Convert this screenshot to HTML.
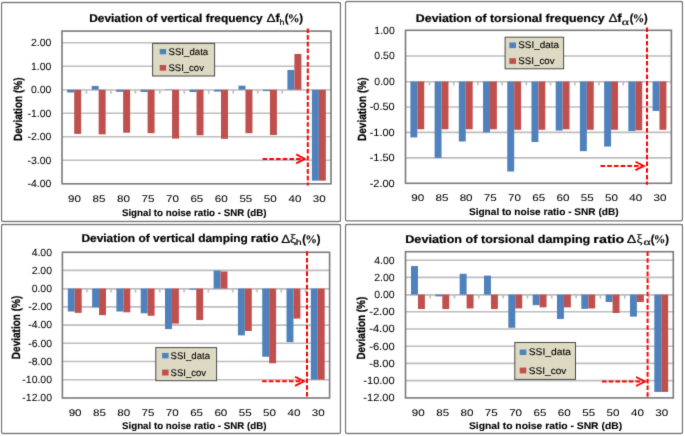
<!DOCTYPE html>
<html><head><meta charset="utf-8"><style>
html,body{margin:0;padding:0;background:#fff;}
body{width:685px;height:436px;overflow:hidden;font-family:"Liberation Sans",sans-serif;}
svg{display:block;}
</style></head><body>
<svg width="685" height="436" viewBox="0 0 685 436" text-rendering="geometricPrecision">
<defs><filter id="b" filterUnits="userSpaceOnUse" x="0" y="0" width="685" height="436" color-interpolation-filters="sRGB"><feConvolveMatrix order="3" kernelMatrix="0.0183 0.1353 0.0183 0.1353 1 0.1353 0.0183 0.1353 0.0183" edgeMode="duplicate" preserveAlpha="true"/></filter></defs>
<rect width="685" height="436" fill="#fff"/>
<g filter="url(#b)">
<rect x="1.5" y="2.5" width="339.00" height="219.00" rx="1.5" fill="#fff" stroke="#868686" stroke-width="1.3"/>
<line x1="62" y1="160.20" x2="331" y2="160.20" stroke="#BDBDBD" stroke-width="1.6"/>
<line x1="62" y1="136.70" x2="331" y2="136.70" stroke="#BDBDBD" stroke-width="1.6"/>
<line x1="62" y1="113.20" x2="331" y2="113.20" stroke="#BDBDBD" stroke-width="1.6"/>
<line x1="62" y1="66.20" x2="331" y2="66.20" stroke="#BDBDBD" stroke-width="1.6"/>
<line x1="62" y1="42.70" x2="331" y2="42.70" stroke="#BDBDBD" stroke-width="1.6"/>
<line x1="62" y1="90.00" x2="331" y2="90.00" stroke="#BDBDBD" stroke-width="1.6"/>
<rect x="67.20" y="89.70" width="6.99" height="2.82" fill="#4F81BD"/>
<rect x="74.19" y="89.70" width="6.99" height="44.18" fill="#C0504D"/>
<rect x="91.67" y="85.94" width="6.99" height="3.76" fill="#4F81BD"/>
<rect x="98.66" y="89.70" width="6.99" height="44.65" fill="#C0504D"/>
<rect x="116.14" y="89.70" width="6.99" height="2.11" fill="#4F81BD"/>
<rect x="123.13" y="89.70" width="6.99" height="43.01" fill="#C0504D"/>
<rect x="140.60" y="89.70" width="6.99" height="2.35" fill="#4F81BD"/>
<rect x="147.60" y="89.70" width="6.99" height="43.48" fill="#C0504D"/>
<rect x="165.07" y="89.23" width="6.99" height="0.47" fill="#4F81BD"/>
<rect x="172.06" y="89.70" width="6.99" height="48.88" fill="#C0504D"/>
<rect x="189.54" y="89.70" width="6.99" height="2.35" fill="#4F81BD"/>
<rect x="196.53" y="89.70" width="6.99" height="45.59" fill="#C0504D"/>
<rect x="214.01" y="89.70" width="6.99" height="1.88" fill="#4F81BD"/>
<rect x="221.00" y="89.70" width="6.99" height="49.11" fill="#C0504D"/>
<rect x="238.47" y="85.70" width="6.99" height="4.00" fill="#4F81BD"/>
<rect x="245.46" y="89.70" width="6.99" height="43.48" fill="#C0504D"/>
<rect x="262.94" y="89.70" width="6.99" height="1.41" fill="#4F81BD"/>
<rect x="269.93" y="89.70" width="6.99" height="45.36" fill="#C0504D"/>
<rect x="287.41" y="69.96" width="6.99" height="19.74" fill="#4F81BD"/>
<rect x="294.40" y="53.98" width="6.99" height="35.72" fill="#C0504D"/>
<rect x="311.88" y="89.70" width="6.99" height="90.95" fill="#4F81BD"/>
<rect x="318.87" y="89.70" width="6.99" height="90.95" fill="#C0504D"/>
<line x1="86.43" y1="89.70" x2="86.43" y2="93.70" stroke="#BDBDBD" stroke-width="1.6"/>
<line x1="110.89" y1="89.70" x2="110.89" y2="93.70" stroke="#BDBDBD" stroke-width="1.6"/>
<line x1="135.36" y1="89.70" x2="135.36" y2="93.70" stroke="#BDBDBD" stroke-width="1.6"/>
<line x1="159.83" y1="89.70" x2="159.83" y2="93.70" stroke="#BDBDBD" stroke-width="1.6"/>
<line x1="184.30" y1="89.70" x2="184.30" y2="93.70" stroke="#BDBDBD" stroke-width="1.6"/>
<line x1="208.76" y1="89.70" x2="208.76" y2="93.70" stroke="#BDBDBD" stroke-width="1.6"/>
<line x1="233.23" y1="89.70" x2="233.23" y2="93.70" stroke="#BDBDBD" stroke-width="1.6"/>
<line x1="257.70" y1="89.70" x2="257.70" y2="93.70" stroke="#BDBDBD" stroke-width="1.6"/>
<line x1="282.17" y1="89.70" x2="282.17" y2="93.70" stroke="#BDBDBD" stroke-width="1.6"/>
<line x1="306.63" y1="89.70" x2="306.63" y2="93.70" stroke="#BDBDBD" stroke-width="1.6"/>
<rect x="62" y="31.1" width="269.00" height="152.70" fill="none" stroke="#7a7a7a" stroke-width="1.6"/>
<text x="27.49" y="187.10" font-family="Liberation Sans, sans-serif" font-size="10.45" font-weight="normal" fill="#000" stroke="#000" stroke-width="0.05" textLength="23.82" lengthAdjust="spacingAndGlyphs" >-4.00</text>
<text x="27.49" y="163.60" font-family="Liberation Sans, sans-serif" font-size="10.45" font-weight="normal" fill="#000" stroke="#000" stroke-width="0.05" textLength="23.82" lengthAdjust="spacingAndGlyphs" >-3.00</text>
<text x="27.49" y="140.10" font-family="Liberation Sans, sans-serif" font-size="10.45" font-weight="normal" fill="#000" stroke="#000" stroke-width="0.05" textLength="23.82" lengthAdjust="spacingAndGlyphs" >-2.00</text>
<text x="27.49" y="116.60" font-family="Liberation Sans, sans-serif" font-size="10.45" font-weight="normal" fill="#000" stroke="#000" stroke-width="0.05" textLength="23.82" lengthAdjust="spacingAndGlyphs" >-1.00</text>
<text x="30.97" y="93.10" font-family="Liberation Sans, sans-serif" font-size="10.45" font-weight="normal" fill="#000" stroke="#000" stroke-width="0.05" textLength="20.34" lengthAdjust="spacingAndGlyphs" >0.00</text>
<text x="30.97" y="69.60" font-family="Liberation Sans, sans-serif" font-size="10.45" font-weight="normal" fill="#000" stroke="#000" stroke-width="0.05" textLength="20.34" lengthAdjust="spacingAndGlyphs" >1.00</text>
<text x="30.97" y="46.10" font-family="Liberation Sans, sans-serif" font-size="10.45" font-weight="normal" fill="#000" stroke="#000" stroke-width="0.05" textLength="20.34" lengthAdjust="spacingAndGlyphs" >2.00</text>
<text x="68.10" y="201.65" font-family="Liberation Sans, sans-serif" font-size="9.75" font-weight="normal" fill="#000" stroke="#000" stroke-width="0.05" textLength="12.91" lengthAdjust="spacingAndGlyphs" >90</text>
<text x="92.60" y="201.65" font-family="Liberation Sans, sans-serif" font-size="9.75" font-weight="normal" fill="#000" stroke="#000" stroke-width="0.05" textLength="12.91" lengthAdjust="spacingAndGlyphs" >85</text>
<text x="117.05" y="201.65" font-family="Liberation Sans, sans-serif" font-size="9.75" font-weight="normal" fill="#000" stroke="#000" stroke-width="0.05" textLength="12.91" lengthAdjust="spacingAndGlyphs" >80</text>
<text x="141.49" y="201.65" font-family="Liberation Sans, sans-serif" font-size="9.75" font-weight="normal" fill="#000" stroke="#000" stroke-width="0.05" textLength="12.91" lengthAdjust="spacingAndGlyphs" >75</text>
<text x="165.94" y="201.65" font-family="Liberation Sans, sans-serif" font-size="9.75" font-weight="normal" fill="#000" stroke="#000" stroke-width="0.05" textLength="12.91" lengthAdjust="spacingAndGlyphs" >70</text>
<text x="190.43" y="201.65" font-family="Liberation Sans, sans-serif" font-size="9.75" font-weight="normal" fill="#000" stroke="#000" stroke-width="0.05" textLength="12.91" lengthAdjust="spacingAndGlyphs" >65</text>
<text x="214.88" y="201.65" font-family="Liberation Sans, sans-serif" font-size="9.75" font-weight="normal" fill="#000" stroke="#000" stroke-width="0.05" textLength="12.91" lengthAdjust="spacingAndGlyphs" >60</text>
<text x="239.42" y="201.65" font-family="Liberation Sans, sans-serif" font-size="9.75" font-weight="normal" fill="#000" stroke="#000" stroke-width="0.05" textLength="12.91" lengthAdjust="spacingAndGlyphs" >55</text>
<text x="263.87" y="201.65" font-family="Liberation Sans, sans-serif" font-size="9.75" font-weight="normal" fill="#000" stroke="#000" stroke-width="0.05" textLength="12.91" lengthAdjust="spacingAndGlyphs" >50</text>
<text x="288.44" y="201.65" font-family="Liberation Sans, sans-serif" font-size="9.75" font-weight="normal" fill="#000" stroke="#000" stroke-width="0.05" textLength="12.91" lengthAdjust="spacingAndGlyphs" >40</text>
<text x="312.82" y="201.65" font-family="Liberation Sans, sans-serif" font-size="9.75" font-weight="normal" fill="#000" stroke="#000" stroke-width="0.05" textLength="12.91" lengthAdjust="spacingAndGlyphs" >30</text>
<text x="121.92" y="216.00" font-family="Liberation Sans, sans-serif" font-size="9.75" font-weight="bold" fill="#000" stroke="#000" stroke-width="0.1" textLength="144.57" lengthAdjust="spacingAndGlyphs" >Signal to noise ratio - SNR (dB)</text>
<text transform="translate(22.30,140.30) rotate(-90)" x="-0.67" y="0" font-family="Liberation Sans, sans-serif" font-size="11.8" font-weight="bold" fill="#000" stroke="#000" stroke-width="0.25" textLength="63.47" lengthAdjust="spacingAndGlyphs">Deviation (%)</text>
<text x="89.20" y="22.00" font-family="Liberation Sans, sans-serif" font-size="11.3" font-weight="bold" fill="#000" stroke="#000" stroke-width="0.2" textLength="173.46" lengthAdjust="spacingAndGlyphs" >Deviation of vertical frequency</text>
<text x="266.40" y="22.00" font-family="Liberation Sans, sans-serif" font-size="11.7" font-weight="normal" fill="#000" stroke="#000" stroke-width="0.2" textLength="9.01" lengthAdjust="spacingAndGlyphs" >Δ</text>
<text x="275.58" y="22.00" font-family="Liberation Sans, sans-serif" font-size="11.7" font-weight="bold" fill="#000" stroke="#000" stroke-width="0.2" textLength="4.19" lengthAdjust="spacingAndGlyphs" >f</text>
<text x="279.59" y="24.60" font-family="Liberation Sans, sans-serif" font-size="8.2" font-weight="normal" fill="#000" stroke="#000" stroke-width="0.2" textLength="4.88" lengthAdjust="spacingAndGlyphs" >h</text>
<text x="284.63" y="22.00" font-family="Liberation Sans, sans-serif" font-size="11.7" font-weight="bold" fill="#000" stroke="#000" stroke-width="0.2" textLength="3.80" lengthAdjust="spacingAndGlyphs" >(</text>
<text x="287.70" y="22.00" font-family="Liberation Serif, sans-serif" font-size="11.7" font-weight="bold" fill="#000" stroke="#000" stroke-width="0.1" textLength="11.89" lengthAdjust="spacingAndGlyphs" >%</text>
<text x="299.27" y="22.00" font-family="Liberation Sans, sans-serif" font-size="11.7" font-weight="bold" fill="#000" stroke="#000" stroke-width="0.2" textLength="3.80" lengthAdjust="spacingAndGlyphs" >)</text>
<rect x="152.6" y="43.4" width="62.00" height="32.60" fill="#DDD9C3" stroke="#4a4a4a" stroke-width="1"/>
<rect x="159.7" y="49" width="6.40" height="5.30" fill="#4F81BD"/>
<text x="168.46" y="54.80" font-family="Liberation Sans, sans-serif" font-size="9.6" font-weight="normal" fill="#000" stroke="#000" stroke-width="0.1" textLength="39.74" lengthAdjust="spacingAndGlyphs" >SSI_data</text>
<rect x="159.7" y="65" width="6.40" height="5.70" fill="#C0504D"/>
<text x="168.47" y="71.20" font-family="Liberation Sans, sans-serif" font-size="9.6" font-weight="normal" fill="#000" stroke="#000" stroke-width="0.1" textLength="35.46" lengthAdjust="spacingAndGlyphs" >SSI_cov</text>
<line x1="307.8" y1="28.4" x2="307.8" y2="185.5" stroke="#FF0000" stroke-width="2" stroke-dasharray="4.6 2.1"/>
<line x1="262.6" y1="158.9" x2="303.9" y2="158.9" stroke="#FF0000" stroke-width="2" stroke-dasharray="4.6 2.1"/>
<polyline points="296.2,154.4 304.9,158.9 296.2,163.4" fill="none" stroke="#FF0000" stroke-width="1.8" stroke-linejoin="miter"/>
<rect x="345.5" y="1.5" width="337.00" height="219.30" rx="1.5" fill="#fff" stroke="#868686" stroke-width="1.3"/>
<line x1="405.5" y1="157.85" x2="671.4" y2="157.85" stroke="#BDBDBD" stroke-width="1.6"/>
<line x1="405.5" y1="132.40" x2="671.4" y2="132.40" stroke="#BDBDBD" stroke-width="1.6"/>
<line x1="405.5" y1="106.95" x2="671.4" y2="106.95" stroke="#BDBDBD" stroke-width="1.6"/>
<line x1="405.5" y1="56.05" x2="671.4" y2="56.05" stroke="#BDBDBD" stroke-width="1.6"/>
<line x1="405.5" y1="81.80" x2="671.4" y2="81.80" stroke="#BDBDBD" stroke-width="1.6"/>
<rect x="410.39" y="81.50" width="6.92" height="55.93" fill="#4F81BD"/>
<rect x="417.31" y="81.50" width="6.92" height="47.79" fill="#C0504D"/>
<rect x="434.61" y="81.50" width="6.92" height="76.29" fill="#4F81BD"/>
<rect x="441.53" y="81.50" width="6.92" height="47.79" fill="#C0504D"/>
<rect x="458.83" y="81.50" width="6.92" height="60.00" fill="#4F81BD"/>
<rect x="465.75" y="81.50" width="6.92" height="47.79" fill="#C0504D"/>
<rect x="483.04" y="81.50" width="6.92" height="50.84" fill="#4F81BD"/>
<rect x="489.96" y="81.50" width="6.92" height="47.79" fill="#C0504D"/>
<rect x="507.26" y="81.50" width="6.92" height="90.03" fill="#4F81BD"/>
<rect x="514.18" y="81.50" width="6.92" height="48.30" fill="#C0504D"/>
<rect x="531.48" y="81.50" width="6.92" height="60.51" fill="#4F81BD"/>
<rect x="538.40" y="81.50" width="6.92" height="48.30" fill="#C0504D"/>
<rect x="555.70" y="81.50" width="6.92" height="49.06" fill="#4F81BD"/>
<rect x="562.62" y="81.50" width="6.92" height="47.79" fill="#C0504D"/>
<rect x="579.92" y="81.50" width="6.92" height="69.67" fill="#4F81BD"/>
<rect x="586.84" y="81.50" width="6.92" height="48.30" fill="#C0504D"/>
<rect x="604.14" y="81.50" width="6.92" height="65.09" fill="#4F81BD"/>
<rect x="611.05" y="81.50" width="6.92" height="48.30" fill="#C0504D"/>
<rect x="628.35" y="81.50" width="6.92" height="49.57" fill="#4F81BD"/>
<rect x="635.27" y="81.50" width="6.92" height="48.80" fill="#C0504D"/>
<rect x="652.57" y="81.50" width="6.92" height="29.46" fill="#4F81BD"/>
<rect x="659.49" y="81.50" width="6.92" height="48.30" fill="#C0504D"/>
<line x1="429.42" y1="81.50" x2="429.42" y2="85.50" stroke="#BDBDBD" stroke-width="1.6"/>
<line x1="453.64" y1="81.50" x2="453.64" y2="85.50" stroke="#BDBDBD" stroke-width="1.6"/>
<line x1="477.85" y1="81.50" x2="477.85" y2="85.50" stroke="#BDBDBD" stroke-width="1.6"/>
<line x1="502.07" y1="81.50" x2="502.07" y2="85.50" stroke="#BDBDBD" stroke-width="1.6"/>
<line x1="526.29" y1="81.50" x2="526.29" y2="85.50" stroke="#BDBDBD" stroke-width="1.6"/>
<line x1="550.51" y1="81.50" x2="550.51" y2="85.50" stroke="#BDBDBD" stroke-width="1.6"/>
<line x1="574.73" y1="81.50" x2="574.73" y2="85.50" stroke="#BDBDBD" stroke-width="1.6"/>
<line x1="598.95" y1="81.50" x2="598.95" y2="85.50" stroke="#BDBDBD" stroke-width="1.6"/>
<line x1="623.16" y1="81.50" x2="623.16" y2="85.50" stroke="#BDBDBD" stroke-width="1.6"/>
<line x1="647.38" y1="81.50" x2="647.38" y2="85.50" stroke="#BDBDBD" stroke-width="1.6"/>
<rect x="405.5" y="30.3" width="265.90" height="153.00" fill="none" stroke="#7a7a7a" stroke-width="1.6"/>
<text x="369.67" y="186.70" font-family="Liberation Sans, sans-serif" font-size="10.45" font-weight="normal" fill="#000" stroke="#000" stroke-width="0.05" textLength="25.06" lengthAdjust="spacingAndGlyphs" >-2.00</text>
<text x="369.67" y="161.25" font-family="Liberation Sans, sans-serif" font-size="10.45" font-weight="normal" fill="#000" stroke="#000" stroke-width="0.05" textLength="25.06" lengthAdjust="spacingAndGlyphs" >-1.50</text>
<text x="369.67" y="135.80" font-family="Liberation Sans, sans-serif" font-size="10.45" font-weight="normal" fill="#000" stroke="#000" stroke-width="0.05" textLength="25.06" lengthAdjust="spacingAndGlyphs" >-1.00</text>
<text x="369.67" y="110.35" font-family="Liberation Sans, sans-serif" font-size="10.45" font-weight="normal" fill="#000" stroke="#000" stroke-width="0.05" textLength="25.06" lengthAdjust="spacingAndGlyphs" >-0.50</text>
<text x="374.37" y="84.90" font-family="Liberation Sans, sans-serif" font-size="10.45" font-weight="normal" fill="#000" stroke="#000" stroke-width="0.05" textLength="20.34" lengthAdjust="spacingAndGlyphs" >0.00</text>
<text x="374.37" y="59.45" font-family="Liberation Sans, sans-serif" font-size="10.45" font-weight="normal" fill="#000" stroke="#000" stroke-width="0.05" textLength="20.34" lengthAdjust="spacingAndGlyphs" >0.50</text>
<text x="374.37" y="34.00" font-family="Liberation Sans, sans-serif" font-size="10.45" font-weight="normal" fill="#000" stroke="#000" stroke-width="0.05" textLength="20.34" lengthAdjust="spacingAndGlyphs" >1.00</text>
<text x="411.21" y="201.35" font-family="Liberation Sans, sans-serif" font-size="9.75" font-weight="normal" fill="#000" stroke="#000" stroke-width="0.05" textLength="12.91" lengthAdjust="spacingAndGlyphs" >90</text>
<text x="435.47" y="201.35" font-family="Liberation Sans, sans-serif" font-size="9.75" font-weight="normal" fill="#000" stroke="#000" stroke-width="0.05" textLength="12.91" lengthAdjust="spacingAndGlyphs" >85</text>
<text x="459.67" y="201.35" font-family="Liberation Sans, sans-serif" font-size="9.75" font-weight="normal" fill="#000" stroke="#000" stroke-width="0.05" textLength="12.91" lengthAdjust="spacingAndGlyphs" >80</text>
<text x="483.86" y="201.35" font-family="Liberation Sans, sans-serif" font-size="9.75" font-weight="normal" fill="#000" stroke="#000" stroke-width="0.05" textLength="12.91" lengthAdjust="spacingAndGlyphs" >75</text>
<text x="508.06" y="201.35" font-family="Liberation Sans, sans-serif" font-size="9.75" font-weight="normal" fill="#000" stroke="#000" stroke-width="0.05" textLength="12.91" lengthAdjust="spacingAndGlyphs" >70</text>
<text x="532.30" y="201.35" font-family="Liberation Sans, sans-serif" font-size="9.75" font-weight="normal" fill="#000" stroke="#000" stroke-width="0.05" textLength="12.91" lengthAdjust="spacingAndGlyphs" >65</text>
<text x="556.50" y="201.35" font-family="Liberation Sans, sans-serif" font-size="9.75" font-weight="normal" fill="#000" stroke="#000" stroke-width="0.05" textLength="12.91" lengthAdjust="spacingAndGlyphs" >60</text>
<text x="580.79" y="201.35" font-family="Liberation Sans, sans-serif" font-size="9.75" font-weight="normal" fill="#000" stroke="#000" stroke-width="0.05" textLength="12.91" lengthAdjust="spacingAndGlyphs" >55</text>
<text x="605.00" y="201.35" font-family="Liberation Sans, sans-serif" font-size="9.75" font-weight="normal" fill="#000" stroke="#000" stroke-width="0.05" textLength="12.91" lengthAdjust="spacingAndGlyphs" >50</text>
<text x="629.31" y="201.35" font-family="Liberation Sans, sans-serif" font-size="9.75" font-weight="normal" fill="#000" stroke="#000" stroke-width="0.05" textLength="12.91" lengthAdjust="spacingAndGlyphs" >40</text>
<text x="653.44" y="201.35" font-family="Liberation Sans, sans-serif" font-size="9.75" font-weight="normal" fill="#000" stroke="#000" stroke-width="0.05" textLength="12.91" lengthAdjust="spacingAndGlyphs" >30</text>
<text x="468.91" y="215.40" font-family="Liberation Sans, sans-serif" font-size="9.75" font-weight="bold" fill="#000" stroke="#000" stroke-width="0.1" textLength="149.69" lengthAdjust="spacingAndGlyphs" >Signal to noise ratio - SNR (dB)</text>
<text transform="translate(366.20,140.30) rotate(-90)" x="-0.67" y="0" font-family="Liberation Sans, sans-serif" font-size="11.8" font-weight="bold" fill="#000" stroke="#000" stroke-width="0.25" textLength="63.47" lengthAdjust="spacingAndGlyphs">Deviation (%)</text>
<text x="415.87" y="22.00" font-family="Liberation Sans, sans-serif" font-size="11.3" font-weight="bold" fill="#000" stroke="#000" stroke-width="0.2" textLength="188.79" lengthAdjust="spacingAndGlyphs" >Deviation of torsional frequency</text>
<text x="608.40" y="22.00" font-family="Liberation Sans, sans-serif" font-size="11.7" font-weight="normal" fill="#000" stroke="#000" stroke-width="0.2" textLength="9.01" lengthAdjust="spacingAndGlyphs" >Δ</text>
<text x="617.37" y="22.00" font-family="Liberation Sans, sans-serif" font-size="11.7" font-weight="bold" fill="#000" stroke="#000" stroke-width="0.2" textLength="4.40" lengthAdjust="spacingAndGlyphs" >f</text>
<text x="621.87" y="24.70" font-family="Liberation Serif, sans-serif" font-size="9.5" font-weight="normal" fill="#000" stroke="#000" stroke-width="0.2" textLength="7.24" lengthAdjust="spacingAndGlyphs" >α</text>
<text x="629.85" y="22.00" font-family="Liberation Sans, sans-serif" font-size="11.7" font-weight="bold" fill="#000" stroke="#000" stroke-width="0.2" textLength="3.69" lengthAdjust="spacingAndGlyphs" >(</text>
<text x="632.83" y="22.00" font-family="Liberation Serif, sans-serif" font-size="11.7" font-weight="bold" fill="#000" stroke="#000" stroke-width="0.1" textLength="11.55" lengthAdjust="spacingAndGlyphs" >%</text>
<text x="644.06" y="22.00" font-family="Liberation Sans, sans-serif" font-size="11.7" font-weight="bold" fill="#000" stroke="#000" stroke-width="0.2" textLength="3.69" lengthAdjust="spacingAndGlyphs" >)</text>
<rect x="505.1" y="37.2" width="58.50" height="31.60" fill="#DDD9C3" stroke="#4a4a4a" stroke-width="1"/>
<rect x="509.3" y="42.5" width="6.70" height="5.60" fill="#4F81BD"/>
<text x="518.15" y="48.40" font-family="Liberation Sans, sans-serif" font-size="9.6" font-weight="normal" fill="#000" stroke="#000" stroke-width="0.1" textLength="40.85" lengthAdjust="spacingAndGlyphs" >SSI_data</text>
<rect x="509.3" y="58.2" width="6.70" height="5.70" fill="#C0504D"/>
<text x="518.16" y="63.90" font-family="Liberation Sans, sans-serif" font-size="9.6" font-weight="normal" fill="#000" stroke="#000" stroke-width="0.1" textLength="36.48" lengthAdjust="spacingAndGlyphs" >SSI_cov</text>
<line x1="647" y1="27.5" x2="647" y2="184.7" stroke="#FF0000" stroke-width="2" stroke-dasharray="4.6 2.1"/>
<line x1="600.5" y1="165.9" x2="642.9" y2="165.9" stroke="#FF0000" stroke-width="2" stroke-dasharray="4.6 2.1"/>
<polyline points="635.5,161.70000000000002 643.9,165.9 635.5,170.1" fill="none" stroke="#FF0000" stroke-width="1.8" stroke-linejoin="miter"/>
<rect x="1.5" y="224.5" width="339.00" height="209.00" rx="1.5" fill="#fff" stroke="#868686" stroke-width="1.3"/>
<line x1="62.4" y1="379.80" x2="329.6" y2="379.80" stroke="#BDBDBD" stroke-width="1.6"/>
<line x1="62.4" y1="361.56" x2="329.6" y2="361.56" stroke="#BDBDBD" stroke-width="1.6"/>
<line x1="62.4" y1="343.32" x2="329.6" y2="343.32" stroke="#BDBDBD" stroke-width="1.6"/>
<line x1="62.4" y1="325.08" x2="329.6" y2="325.08" stroke="#BDBDBD" stroke-width="1.6"/>
<line x1="62.4" y1="306.84" x2="329.6" y2="306.84" stroke="#BDBDBD" stroke-width="1.6"/>
<line x1="62.4" y1="270.36" x2="329.6" y2="270.36" stroke="#BDBDBD" stroke-width="1.6"/>
<line x1="62.4" y1="288.90" x2="329.6" y2="288.90" stroke="#BDBDBD" stroke-width="1.6"/>
<rect x="67.81" y="288.60" width="6.94" height="22.89" fill="#4F81BD"/>
<rect x="74.75" y="288.60" width="6.94" height="24.25" fill="#C0504D"/>
<rect x="92.11" y="288.60" width="6.94" height="18.78" fill="#4F81BD"/>
<rect x="99.05" y="288.60" width="6.94" height="26.53" fill="#C0504D"/>
<rect x="116.41" y="288.60" width="6.94" height="22.89" fill="#4F81BD"/>
<rect x="123.35" y="288.60" width="6.94" height="23.71" fill="#C0504D"/>
<rect x="140.71" y="288.60" width="6.94" height="24.71" fill="#4F81BD"/>
<rect x="147.65" y="288.60" width="6.94" height="27.17" fill="#C0504D"/>
<rect x="165.01" y="288.60" width="6.94" height="40.49" fill="#4F81BD"/>
<rect x="171.95" y="288.60" width="6.94" height="35.01" fill="#C0504D"/>
<rect x="189.31" y="288.60" width="6.94" height="1.09" fill="#4F81BD"/>
<rect x="196.25" y="288.60" width="6.94" height="31.46" fill="#C0504D"/>
<rect x="213.61" y="270.55" width="6.94" height="18.05" fill="#4F81BD"/>
<rect x="220.55" y="271.46" width="6.94" height="17.14" fill="#C0504D"/>
<rect x="237.91" y="288.60" width="6.94" height="46.78" fill="#4F81BD"/>
<rect x="244.85" y="288.60" width="6.94" height="42.40" fill="#C0504D"/>
<rect x="262.21" y="288.60" width="6.94" height="68.12" fill="#4F81BD"/>
<rect x="269.15" y="288.60" width="6.94" height="74.69" fill="#C0504D"/>
<rect x="286.51" y="288.60" width="6.94" height="53.53" fill="#4F81BD"/>
<rect x="293.45" y="288.60" width="6.94" height="30.00" fill="#C0504D"/>
<rect x="310.81" y="288.60" width="6.94" height="91.01" fill="#4F81BD"/>
<rect x="317.75" y="288.60" width="6.94" height="91.01" fill="#C0504D"/>
<line x1="86.90" y1="288.60" x2="86.90" y2="292.60" stroke="#BDBDBD" stroke-width="1.6"/>
<line x1="111.20" y1="288.60" x2="111.20" y2="292.60" stroke="#BDBDBD" stroke-width="1.6"/>
<line x1="135.50" y1="288.60" x2="135.50" y2="292.60" stroke="#BDBDBD" stroke-width="1.6"/>
<line x1="159.80" y1="288.60" x2="159.80" y2="292.60" stroke="#BDBDBD" stroke-width="1.6"/>
<line x1="184.10" y1="288.60" x2="184.10" y2="292.60" stroke="#BDBDBD" stroke-width="1.6"/>
<line x1="208.40" y1="288.60" x2="208.40" y2="292.60" stroke="#BDBDBD" stroke-width="1.6"/>
<line x1="232.70" y1="288.60" x2="232.70" y2="292.60" stroke="#BDBDBD" stroke-width="1.6"/>
<line x1="257.00" y1="288.60" x2="257.00" y2="292.60" stroke="#BDBDBD" stroke-width="1.6"/>
<line x1="281.30" y1="288.60" x2="281.30" y2="292.60" stroke="#BDBDBD" stroke-width="1.6"/>
<line x1="305.60" y1="288.60" x2="305.60" y2="292.60" stroke="#BDBDBD" stroke-width="1.6"/>
<rect x="62.4" y="252.3" width="267.20" height="145.70" fill="none" stroke="#7a7a7a" stroke-width="1.6"/>
<text x="22.38" y="401.44" font-family="Liberation Sans, sans-serif" font-size="10.45" font-weight="normal" fill="#000" stroke="#000" stroke-width="0.05" textLength="29.63" lengthAdjust="spacingAndGlyphs" >-12.00</text>
<text x="22.38" y="383.20" font-family="Liberation Sans, sans-serif" font-size="10.45" font-weight="normal" fill="#000" stroke="#000" stroke-width="0.05" textLength="29.63" lengthAdjust="spacingAndGlyphs" >-10.00</text>
<text x="28.19" y="364.96" font-family="Liberation Sans, sans-serif" font-size="10.45" font-weight="normal" fill="#000" stroke="#000" stroke-width="0.05" textLength="23.82" lengthAdjust="spacingAndGlyphs" >-8.00</text>
<text x="28.19" y="346.72" font-family="Liberation Sans, sans-serif" font-size="10.45" font-weight="normal" fill="#000" stroke="#000" stroke-width="0.05" textLength="23.82" lengthAdjust="spacingAndGlyphs" >-6.00</text>
<text x="28.19" y="328.48" font-family="Liberation Sans, sans-serif" font-size="10.45" font-weight="normal" fill="#000" stroke="#000" stroke-width="0.05" textLength="23.82" lengthAdjust="spacingAndGlyphs" >-4.00</text>
<text x="28.19" y="310.24" font-family="Liberation Sans, sans-serif" font-size="10.45" font-weight="normal" fill="#000" stroke="#000" stroke-width="0.05" textLength="23.82" lengthAdjust="spacingAndGlyphs" >-2.00</text>
<text x="31.67" y="292.00" font-family="Liberation Sans, sans-serif" font-size="10.45" font-weight="normal" fill="#000" stroke="#000" stroke-width="0.05" textLength="20.34" lengthAdjust="spacingAndGlyphs" >0.00</text>
<text x="31.67" y="273.76" font-family="Liberation Sans, sans-serif" font-size="10.45" font-weight="normal" fill="#000" stroke="#000" stroke-width="0.05" textLength="20.34" lengthAdjust="spacingAndGlyphs" >2.00</text>
<text x="31.67" y="255.52" font-family="Liberation Sans, sans-serif" font-size="10.45" font-weight="normal" fill="#000" stroke="#000" stroke-width="0.05" textLength="20.34" lengthAdjust="spacingAndGlyphs" >4.00</text>
<text x="68.65" y="415.85" font-family="Liberation Sans, sans-serif" font-size="9.75" font-weight="normal" fill="#000" stroke="#000" stroke-width="0.05" textLength="12.91" lengthAdjust="spacingAndGlyphs" >90</text>
<text x="92.99" y="415.85" font-family="Liberation Sans, sans-serif" font-size="9.75" font-weight="normal" fill="#000" stroke="#000" stroke-width="0.05" textLength="12.91" lengthAdjust="spacingAndGlyphs" >85</text>
<text x="117.27" y="415.85" font-family="Liberation Sans, sans-serif" font-size="9.75" font-weight="normal" fill="#000" stroke="#000" stroke-width="0.05" textLength="12.91" lengthAdjust="spacingAndGlyphs" >80</text>
<text x="141.54" y="415.85" font-family="Liberation Sans, sans-serif" font-size="9.75" font-weight="normal" fill="#000" stroke="#000" stroke-width="0.05" textLength="12.91" lengthAdjust="spacingAndGlyphs" >75</text>
<text x="165.83" y="415.85" font-family="Liberation Sans, sans-serif" font-size="9.75" font-weight="normal" fill="#000" stroke="#000" stroke-width="0.05" textLength="12.91" lengthAdjust="spacingAndGlyphs" >70</text>
<text x="190.15" y="415.85" font-family="Liberation Sans, sans-serif" font-size="9.75" font-weight="normal" fill="#000" stroke="#000" stroke-width="0.05" textLength="12.91" lengthAdjust="spacingAndGlyphs" >65</text>
<text x="214.43" y="415.85" font-family="Liberation Sans, sans-serif" font-size="9.75" font-weight="normal" fill="#000" stroke="#000" stroke-width="0.05" textLength="12.91" lengthAdjust="spacingAndGlyphs" >60</text>
<text x="238.81" y="415.85" font-family="Liberation Sans, sans-serif" font-size="9.75" font-weight="normal" fill="#000" stroke="#000" stroke-width="0.05" textLength="12.91" lengthAdjust="spacingAndGlyphs" >55</text>
<text x="263.09" y="415.85" font-family="Liberation Sans, sans-serif" font-size="9.75" font-weight="normal" fill="#000" stroke="#000" stroke-width="0.05" textLength="12.91" lengthAdjust="spacingAndGlyphs" >50</text>
<text x="287.49" y="415.85" font-family="Liberation Sans, sans-serif" font-size="9.75" font-weight="normal" fill="#000" stroke="#000" stroke-width="0.05" textLength="12.91" lengthAdjust="spacingAndGlyphs" >40</text>
<text x="311.70" y="415.85" font-family="Liberation Sans, sans-serif" font-size="9.75" font-weight="normal" fill="#000" stroke="#000" stroke-width="0.05" textLength="12.91" lengthAdjust="spacingAndGlyphs" >30</text>
<text x="122.02" y="429.00" font-family="Liberation Sans, sans-serif" font-size="9.75" font-weight="bold" fill="#000" stroke="#000" stroke-width="0.1" textLength="144.47" lengthAdjust="spacingAndGlyphs" >Signal to noise ratio - SNR (dB)</text>
<text transform="translate(20.10,358.50) rotate(-90)" x="-0.67" y="0" font-family="Liberation Sans, sans-serif" font-size="11.8" font-weight="bold" fill="#000" stroke="#000" stroke-width="0.25" textLength="63.47" lengthAdjust="spacingAndGlyphs">Deviation (%)</text>
<text x="81.40" y="242.40" font-family="Liberation Sans, sans-serif" font-size="11.3" font-weight="bold" fill="#000" stroke="#000" stroke-width="0.2" textLength="166.50" lengthAdjust="spacingAndGlyphs" >Deviation of vertical damping</text>
<text x="250.65" y="242.40" font-family="Liberation Sans, sans-serif" font-size="11.3" font-weight="bold" fill="#000" stroke="#000" stroke-width="0.2" textLength="27.95" lengthAdjust="spacingAndGlyphs" >ratio</text>
<text x="281.30" y="242.60" font-family="Liberation Sans, sans-serif" font-size="11.7" font-weight="normal" fill="#000" stroke="#000" stroke-width="0.2" textLength="8.90" lengthAdjust="spacingAndGlyphs" >Δ</text>
<text x="289.75" y="242.60" font-family="Liberation Serif, sans-serif" font-size="12.5" font-weight="normal" fill="#000" stroke="#000" stroke-width="0.2" textLength="6.58" lengthAdjust="spacingAndGlyphs" >ξ</text>
<text x="295.86" y="245.00" font-family="Liberation Sans, sans-serif" font-size="8.2" font-weight="normal" fill="#000" stroke="#000" stroke-width="0.2" textLength="5.93" lengthAdjust="spacingAndGlyphs" >h</text>
<text x="302.24" y="242.60" font-family="Liberation Sans, sans-serif" font-size="11.7" font-weight="bold" fill="#000" stroke="#000" stroke-width="0.2" textLength="3.75" lengthAdjust="spacingAndGlyphs" >(</text>
<text x="305.27" y="242.60" font-family="Liberation Serif, sans-serif" font-size="11.7" font-weight="bold" fill="#000" stroke="#000" stroke-width="0.1" textLength="11.75" lengthAdjust="spacingAndGlyphs" >%</text>
<text x="316.71" y="242.60" font-family="Liberation Sans, sans-serif" font-size="11.7" font-weight="bold" fill="#000" stroke="#000" stroke-width="0.2" textLength="3.75" lengthAdjust="spacingAndGlyphs" >)</text>
<rect x="155.8" y="347.6" width="60.80" height="33.10" fill="#DDD9C3" stroke="#4a4a4a" stroke-width="1"/>
<rect x="162.1" y="352.9" width="6.50" height="5.50" fill="#4F81BD"/>
<text x="170.56" y="358.80" font-family="Liberation Sans, sans-serif" font-size="9.6" font-weight="normal" fill="#000" stroke="#000" stroke-width="0.1" textLength="39.44" lengthAdjust="spacingAndGlyphs" >SSI_data</text>
<rect x="162.1" y="369.6" width="6.50" height="5.90" fill="#C0504D"/>
<text x="170.57" y="375.50" font-family="Liberation Sans, sans-serif" font-size="9.6" font-weight="normal" fill="#000" stroke="#000" stroke-width="0.1" textLength="35.57" lengthAdjust="spacingAndGlyphs" >SSI_cov</text>
<line x1="307" y1="251.2" x2="307" y2="397.5" stroke="#FF0000" stroke-width="2" stroke-dasharray="4.6 2.1"/>
<line x1="262.1" y1="381.3" x2="303.0" y2="381.3" stroke="#FF0000" stroke-width="2" stroke-dasharray="4.6 2.1"/>
<polyline points="295.0,376.7 304.0,381.3 295.0,385.90000000000003" fill="none" stroke="#FF0000" stroke-width="1.8" stroke-linejoin="miter"/>
<rect x="345.5" y="224.5" width="337.00" height="209.00" rx="1.5" fill="#fff" stroke="#868686" stroke-width="1.3"/>
<line x1="405.5" y1="380.60" x2="673.3" y2="380.60" stroke="#BDBDBD" stroke-width="1.6"/>
<line x1="405.5" y1="363.40" x2="673.3" y2="363.40" stroke="#BDBDBD" stroke-width="1.6"/>
<line x1="405.5" y1="346.20" x2="673.3" y2="346.20" stroke="#BDBDBD" stroke-width="1.6"/>
<line x1="405.5" y1="329.00" x2="673.3" y2="329.00" stroke="#BDBDBD" stroke-width="1.6"/>
<line x1="405.5" y1="311.80" x2="673.3" y2="311.80" stroke="#BDBDBD" stroke-width="1.6"/>
<line x1="405.5" y1="277.40" x2="673.3" y2="277.40" stroke="#BDBDBD" stroke-width="1.6"/>
<line x1="405.5" y1="260.20" x2="673.3" y2="260.20" stroke="#BDBDBD" stroke-width="1.6"/>
<line x1="405.5" y1="294.90" x2="673.3" y2="294.90" stroke="#BDBDBD" stroke-width="1.6"/>
<rect x="411.01" y="266.06" width="6.95" height="28.54" fill="#4F81BD"/>
<rect x="417.96" y="294.60" width="6.95" height="14.43" fill="#C0504D"/>
<rect x="435.34" y="294.60" width="6.95" height="1.79" fill="#4F81BD"/>
<rect x="442.29" y="294.60" width="6.95" height="14.43" fill="#C0504D"/>
<rect x="459.67" y="273.80" width="6.95" height="20.80" fill="#4F81BD"/>
<rect x="466.62" y="294.60" width="6.95" height="13.83" fill="#C0504D"/>
<rect x="483.99" y="275.61" width="6.95" height="18.99" fill="#4F81BD"/>
<rect x="490.95" y="294.60" width="6.95" height="14.43" fill="#C0504D"/>
<rect x="508.32" y="294.60" width="6.95" height="33.18" fill="#4F81BD"/>
<rect x="515.27" y="294.60" width="6.95" height="13.83" fill="#C0504D"/>
<rect x="532.65" y="294.60" width="6.95" height="10.56" fill="#4F81BD"/>
<rect x="539.60" y="294.60" width="6.95" height="12.80" fill="#C0504D"/>
<rect x="556.98" y="294.60" width="6.95" height="24.41" fill="#4F81BD"/>
<rect x="563.93" y="294.60" width="6.95" height="12.80" fill="#C0504D"/>
<rect x="581.30" y="294.60" width="6.95" height="14.26" fill="#4F81BD"/>
<rect x="588.25" y="294.60" width="6.95" height="13.83" fill="#C0504D"/>
<rect x="605.63" y="294.60" width="6.95" height="7.38" fill="#4F81BD"/>
<rect x="612.58" y="294.60" width="6.95" height="18.39" fill="#C0504D"/>
<rect x="629.96" y="294.60" width="6.95" height="22.00" fill="#4F81BD"/>
<rect x="636.91" y="294.60" width="6.95" height="7.38" fill="#C0504D"/>
<rect x="654.29" y="294.60" width="6.95" height="97.34" fill="#4F81BD"/>
<rect x="661.24" y="294.60" width="6.95" height="97.34" fill="#C0504D"/>
<line x1="430.13" y1="294.60" x2="430.13" y2="298.60" stroke="#BDBDBD" stroke-width="1.6"/>
<line x1="454.45" y1="294.60" x2="454.45" y2="298.60" stroke="#BDBDBD" stroke-width="1.6"/>
<line x1="478.78" y1="294.60" x2="478.78" y2="298.60" stroke="#BDBDBD" stroke-width="1.6"/>
<line x1="503.11" y1="294.60" x2="503.11" y2="298.60" stroke="#BDBDBD" stroke-width="1.6"/>
<line x1="527.44" y1="294.60" x2="527.44" y2="298.60" stroke="#BDBDBD" stroke-width="1.6"/>
<line x1="551.76" y1="294.60" x2="551.76" y2="298.60" stroke="#BDBDBD" stroke-width="1.6"/>
<line x1="576.09" y1="294.60" x2="576.09" y2="298.60" stroke="#BDBDBD" stroke-width="1.6"/>
<line x1="600.42" y1="294.60" x2="600.42" y2="298.60" stroke="#BDBDBD" stroke-width="1.6"/>
<line x1="624.75" y1="294.60" x2="624.75" y2="298.60" stroke="#BDBDBD" stroke-width="1.6"/>
<line x1="649.07" y1="294.60" x2="649.07" y2="298.60" stroke="#BDBDBD" stroke-width="1.6"/>
<rect x="405.5" y="251.7" width="267.80" height="146.20" fill="none" stroke="#7a7a7a" stroke-width="1.6"/>
<text x="363.35" y="401.20" font-family="Liberation Sans, sans-serif" font-size="10.45" font-weight="normal" fill="#000" stroke="#000" stroke-width="0.05" textLength="31.28" lengthAdjust="spacingAndGlyphs" >-12.00</text>
<text x="363.35" y="384.00" font-family="Liberation Sans, sans-serif" font-size="10.45" font-weight="normal" fill="#000" stroke="#000" stroke-width="0.05" textLength="31.28" lengthAdjust="spacingAndGlyphs" >-10.00</text>
<text x="369.16" y="366.80" font-family="Liberation Sans, sans-serif" font-size="10.45" font-weight="normal" fill="#000" stroke="#000" stroke-width="0.05" textLength="25.48" lengthAdjust="spacingAndGlyphs" >-8.00</text>
<text x="369.16" y="349.60" font-family="Liberation Sans, sans-serif" font-size="10.45" font-weight="normal" fill="#000" stroke="#000" stroke-width="0.05" textLength="25.48" lengthAdjust="spacingAndGlyphs" >-6.00</text>
<text x="369.16" y="332.40" font-family="Liberation Sans, sans-serif" font-size="10.45" font-weight="normal" fill="#000" stroke="#000" stroke-width="0.05" textLength="25.48" lengthAdjust="spacingAndGlyphs" >-4.00</text>
<text x="369.16" y="315.20" font-family="Liberation Sans, sans-serif" font-size="10.45" font-weight="normal" fill="#000" stroke="#000" stroke-width="0.05" textLength="25.48" lengthAdjust="spacingAndGlyphs" >-2.00</text>
<text x="374.27" y="298.00" font-family="Liberation Sans, sans-serif" font-size="10.45" font-weight="normal" fill="#000" stroke="#000" stroke-width="0.05" textLength="20.34" lengthAdjust="spacingAndGlyphs" >0.00</text>
<text x="374.27" y="280.80" font-family="Liberation Sans, sans-serif" font-size="10.45" font-weight="normal" fill="#000" stroke="#000" stroke-width="0.05" textLength="20.34" lengthAdjust="spacingAndGlyphs" >2.00</text>
<text x="374.27" y="263.60" font-family="Liberation Sans, sans-serif" font-size="10.45" font-weight="normal" fill="#000" stroke="#000" stroke-width="0.05" textLength="20.34" lengthAdjust="spacingAndGlyphs" >4.00</text>
<text x="411.87" y="415.85" font-family="Liberation Sans, sans-serif" font-size="9.75" font-weight="normal" fill="#000" stroke="#000" stroke-width="0.05" textLength="12.91" lengthAdjust="spacingAndGlyphs" >90</text>
<text x="436.23" y="415.85" font-family="Liberation Sans, sans-serif" font-size="9.75" font-weight="normal" fill="#000" stroke="#000" stroke-width="0.05" textLength="12.91" lengthAdjust="spacingAndGlyphs" >85</text>
<text x="460.54" y="415.85" font-family="Liberation Sans, sans-serif" font-size="9.75" font-weight="normal" fill="#000" stroke="#000" stroke-width="0.05" textLength="12.91" lengthAdjust="spacingAndGlyphs" >80</text>
<text x="484.84" y="415.85" font-family="Liberation Sans, sans-serif" font-size="9.75" font-weight="normal" fill="#000" stroke="#000" stroke-width="0.05" textLength="12.91" lengthAdjust="spacingAndGlyphs" >75</text>
<text x="509.15" y="415.85" font-family="Liberation Sans, sans-serif" font-size="9.75" font-weight="normal" fill="#000" stroke="#000" stroke-width="0.05" textLength="12.91" lengthAdjust="spacingAndGlyphs" >70</text>
<text x="533.50" y="415.85" font-family="Liberation Sans, sans-serif" font-size="9.75" font-weight="normal" fill="#000" stroke="#000" stroke-width="0.05" textLength="12.91" lengthAdjust="spacingAndGlyphs" >65</text>
<text x="557.81" y="415.85" font-family="Liberation Sans, sans-serif" font-size="9.75" font-weight="normal" fill="#000" stroke="#000" stroke-width="0.05" textLength="12.91" lengthAdjust="spacingAndGlyphs" >60</text>
<text x="582.21" y="415.85" font-family="Liberation Sans, sans-serif" font-size="9.75" font-weight="normal" fill="#000" stroke="#000" stroke-width="0.05" textLength="12.91" lengthAdjust="spacingAndGlyphs" >55</text>
<text x="606.52" y="415.85" font-family="Liberation Sans, sans-serif" font-size="9.75" font-weight="normal" fill="#000" stroke="#000" stroke-width="0.05" textLength="12.91" lengthAdjust="spacingAndGlyphs" >50</text>
<text x="630.95" y="415.85" font-family="Liberation Sans, sans-serif" font-size="9.75" font-weight="normal" fill="#000" stroke="#000" stroke-width="0.05" textLength="12.91" lengthAdjust="spacingAndGlyphs" >40</text>
<text x="655.19" y="415.85" font-family="Liberation Sans, sans-serif" font-size="9.75" font-weight="normal" fill="#000" stroke="#000" stroke-width="0.05" textLength="12.91" lengthAdjust="spacingAndGlyphs" >30</text>
<text x="468.90" y="428.90" font-family="Liberation Sans, sans-serif" font-size="9.75" font-weight="bold" fill="#000" stroke="#000" stroke-width="0.1" textLength="153.21" lengthAdjust="spacingAndGlyphs" >Signal to noise ratio - SNR (dB)</text>
<text transform="translate(365.10,358.90) rotate(-90)" x="-0.66" y="0" font-family="Liberation Sans, sans-serif" font-size="11.8" font-weight="bold" fill="#000" stroke="#000" stroke-width="0.25" textLength="62.76" lengthAdjust="spacingAndGlyphs">Deviation (%)</text>
<text x="405.26" y="243.00" font-family="Liberation Sans, sans-serif" font-size="11.3" font-weight="bold" fill="#000" stroke="#000" stroke-width="0.2" textLength="185.09" lengthAdjust="spacingAndGlyphs" >Deviation of torsional damping</text>
<text x="593.36" y="243.00" font-family="Liberation Sans, sans-serif" font-size="11.3" font-weight="bold" fill="#000" stroke="#000" stroke-width="0.2" textLength="31.00" lengthAdjust="spacingAndGlyphs" >ratio</text>
<text x="626.67" y="243.00" font-family="Liberation Sans, sans-serif" font-size="11.7" font-weight="normal" fill="#000" stroke="#000" stroke-width="0.2" textLength="9.56" lengthAdjust="spacingAndGlyphs" >Δ</text>
<text x="636.41" y="243.00" font-family="Liberation Serif, sans-serif" font-size="12.5" font-weight="normal" fill="#000" stroke="#000" stroke-width="0.2" textLength="5.99" lengthAdjust="spacingAndGlyphs" >ξ</text>
<text x="643.48" y="245.30" font-family="Liberation Serif, sans-serif" font-size="9.5" font-weight="normal" fill="#000" stroke="#000" stroke-width="0.2" textLength="7.12" lengthAdjust="spacingAndGlyphs" >α</text>
<text x="650.85" y="243.00" font-family="Liberation Sans, sans-serif" font-size="11.7" font-weight="bold" fill="#000" stroke="#000" stroke-width="0.2" textLength="3.71" lengthAdjust="spacingAndGlyphs" >(</text>
<text x="653.84" y="243.00" font-family="Liberation Serif, sans-serif" font-size="11.7" font-weight="bold" fill="#000" stroke="#000" stroke-width="0.1" textLength="11.61" lengthAdjust="spacingAndGlyphs" >%</text>
<text x="665.14" y="243.00" font-family="Liberation Sans, sans-serif" font-size="11.7" font-weight="bold" fill="#000" stroke="#000" stroke-width="0.2" textLength="3.71" lengthAdjust="spacingAndGlyphs" >)</text>
<rect x="514.8" y="342.5" width="60.70" height="36.90" fill="#DDD9C3" stroke="#4a4a4a" stroke-width="1"/>
<rect x="519.7" y="349.5" width="6.60" height="5.50" fill="#4F81BD"/>
<text x="528.73" y="355.40" font-family="Liberation Sans, sans-serif" font-size="9.6" font-weight="normal" fill="#000" stroke="#000" stroke-width="0.1" textLength="42.27" lengthAdjust="spacingAndGlyphs" >SSI_data</text>
<rect x="519.7" y="367.6" width="6.60" height="5.80" fill="#C0504D"/>
<text x="528.74" y="373.80" font-family="Liberation Sans, sans-serif" font-size="9.6" font-weight="normal" fill="#000" stroke="#000" stroke-width="0.1" textLength="37.69" lengthAdjust="spacingAndGlyphs" >SSI_cov</text>
<line x1="647.6" y1="251.5" x2="647.6" y2="397" stroke="#FF0000" stroke-width="2" stroke-dasharray="4.6 2.1"/>
<line x1="602" y1="381.5" x2="644.0" y2="381.5" stroke="#FF0000" stroke-width="2" stroke-dasharray="4.6 2.1"/>
<polyline points="636.0,377.0 645.0,381.5 636.0,386.0" fill="none" stroke="#FF0000" stroke-width="1.8" stroke-linejoin="miter"/>
</g>
</svg>
</body></html>
